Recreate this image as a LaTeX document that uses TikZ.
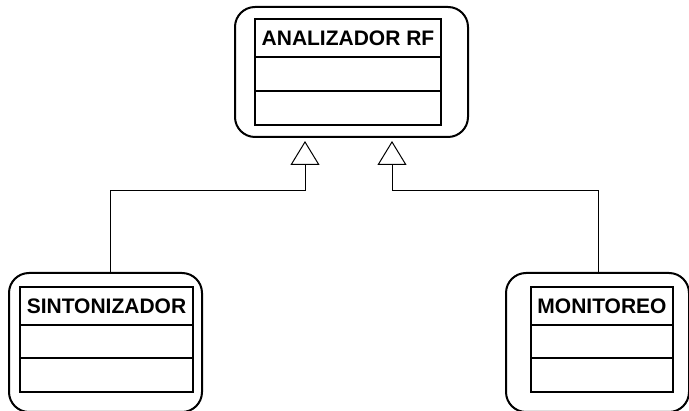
\documentclass[tikz,border=0pt]{standalone}
\usepackage{fontspec}
\setmainfont{Liberation Sans}
\usetikzlibrary{arrows.meta}
\begin{document}
\begin{tikzpicture}[x=1pt,y=-1pt,
  frame/.style={draw, line width=2pt, rounded corners=20pt, inner sep=0pt},
  head/.style={draw, line width=1.8pt, inner sep=0pt, minimum height=38pt,
    font=\fontsize{21}{25}\selectfont\bfseries},
  compart/.style={draw, line width=1.8pt, inner sep=0pt},
  inherit/.style={draw, line width=1pt,
    -{Triangle[open, length=24pt, width=29pt, line width=1pt]}}
]
\useasboundingbox (0,0) rectangle (689,411);

% superclass
\node[frame, minimum width=233pt, minimum height=130pt] (top) at (351.5,72) {};
\node[head, minimum width=186pt] (topH) at (348,38) {ANALIZADOR RF};
\node[compart, minimum width=186pt, minimum height=34pt] (topA) at (348,74) {};
\node[compart, minimum width=186pt, minimum height=34pt] (topB) at (348,108) {};

% subclass on the left
\node[frame, minimum width=193pt, minimum height=139pt] (sint) at (105.5,342.5) {};
\node[head, minimum width=173pt] (sintH) at (106.5,306) {SINTONIZADOR};
\node[compart, minimum width=173pt, minimum height=33pt] (sintA) at (106.5,341.5) {};
\node[compart, minimum width=173pt, minimum height=34pt] (sintB) at (106.5,375) {};

% subclass on the right
\node[frame, minimum width=183pt, minimum height=139pt] (mon) at (597.5,342.5) {};
\node[head, minimum width=142pt] (monH) at (602,306) {MONITOREO};
\node[compart, minimum width=142pt, minimum height=33pt] (monA) at (602,341.5) {};
\node[compart, minimum width=142pt, minimum height=34pt] (monB) at (602,375) {};

% generalisation connectors
\draw[inherit] ([xshift=4.5pt]sint.north) |- (305,191)
  -- ([xshift=-46.5pt,yshift=-3pt]top.south);
\draw[inherit] ([xshift=0.5pt]mon.north) |- (392,191)
  -- ([xshift=40.5pt,yshift=-3pt]top.south);
\end{tikzpicture}
\end{document}
